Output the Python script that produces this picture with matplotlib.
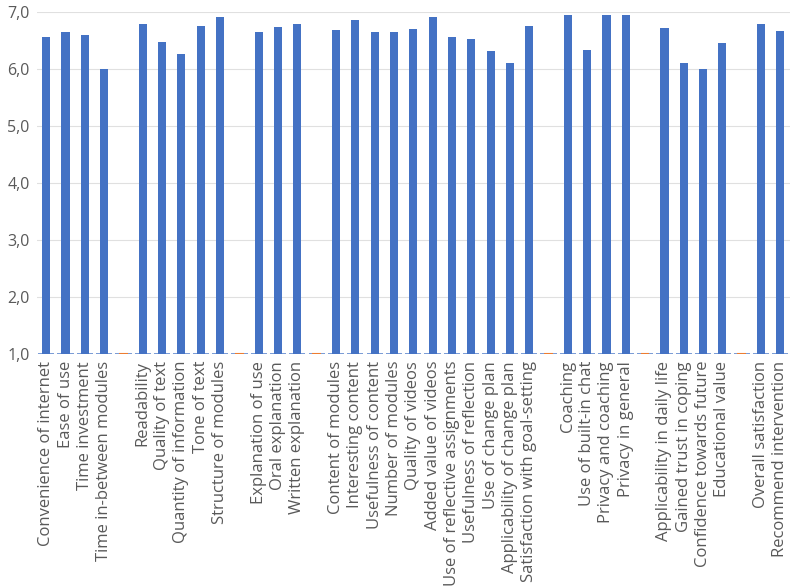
import matplotlib
matplotlib.use("Agg")
import matplotlib.pyplot as plt
import numpy as np

# items per group, empty string marks the gap between groups
labels = [
    "Convenience of internet", "Ease of use", "Time investment", "Time in-between modules", "",
    "Readability", "Quality of text", "Quantity of information", "Tone of text", "Structure of modules", "",
    "Explanation of use", "Oral explanation", "Written explanation", "",
    "Content of modules", "Interesting content", "Usefulness of content", "Number of modules",
    "Quality of videos", "Added value of videos", "Use of reflective assignments",
    "Usefulness of reflection", "Use of change plan", "Applicability of change plan",
    "Satisfaction with goal-setting", "",
    "Coaching", "Use of built-in chat", "Privacy and coaching", "Privacy in general", "",
    "Applicability in daily life", "Gained trust in coping", "Confidence towards future",
    "Educational value", "",
    "Overall satisfaction", "Recommend intervention",
]
scores = [
    6.55, 6.64, 6.60, 6.00, None,
    6.79, 6.47, 6.26, 6.75, 6.90, None,
    6.64, 6.74, 6.79, None,
    6.68, 6.85, 6.64, 6.64, 6.70, 6.90, 6.55, 6.52, 6.31, 6.10, 6.75, None,
    6.95, 6.33, 6.95, 6.95, None,
    6.71, 6.10, 6.00, 6.45, None,
    6.79, 6.67,
]

blue = "#4472C4"
orange = "#ED7D31"
grey = "#595959"

fig = plt.figure(figsize=(7.94, 5.88), dpi=100)
ax = fig.add_axes([0.046, 0.398, 0.949, 0.582])

x = np.arange(len(labels))
ymin = 1.0
for xi, v in zip(x, scores):
    # baseline segment for each category
    ax.hlines(ymin, xi - 0.42, xi + 0.42, color="#6F93D2", lw=1.3, zorder=2)
    if v is None:
        ax.hlines(ymin, xi - 0.22, xi + 0.22, color=orange, lw=1.5, zorder=3)
    else:
        ax.bar(xi, v - ymin, bottom=ymin, width=0.42, color=blue, zorder=4)

ax.set_xlim(-0.5, len(labels) - 0.5)
ax.set_ylim(1, 7)
ax.set_yticks(np.arange(1, 8))
ax.set_yticklabels([f"{t:.1f}".replace(".", ",") for t in range(1, 8)],
                   fontsize=11.5, color=grey, family="Open Sans")
ax.set_xticks(x)
ax.set_xticklabels(labels, rotation=90, fontsize=12, color=grey, family="Open Sans")
ax.tick_params(axis="both", length=0, pad=5)
ax.grid(axis="y", color="#E0E0E0", lw=0.8, zorder=0)
ax.set_axisbelow(True)
for s in ax.spines.values():
    s.set_visible(False)

fig.savefig("out.png", dpi=100)
